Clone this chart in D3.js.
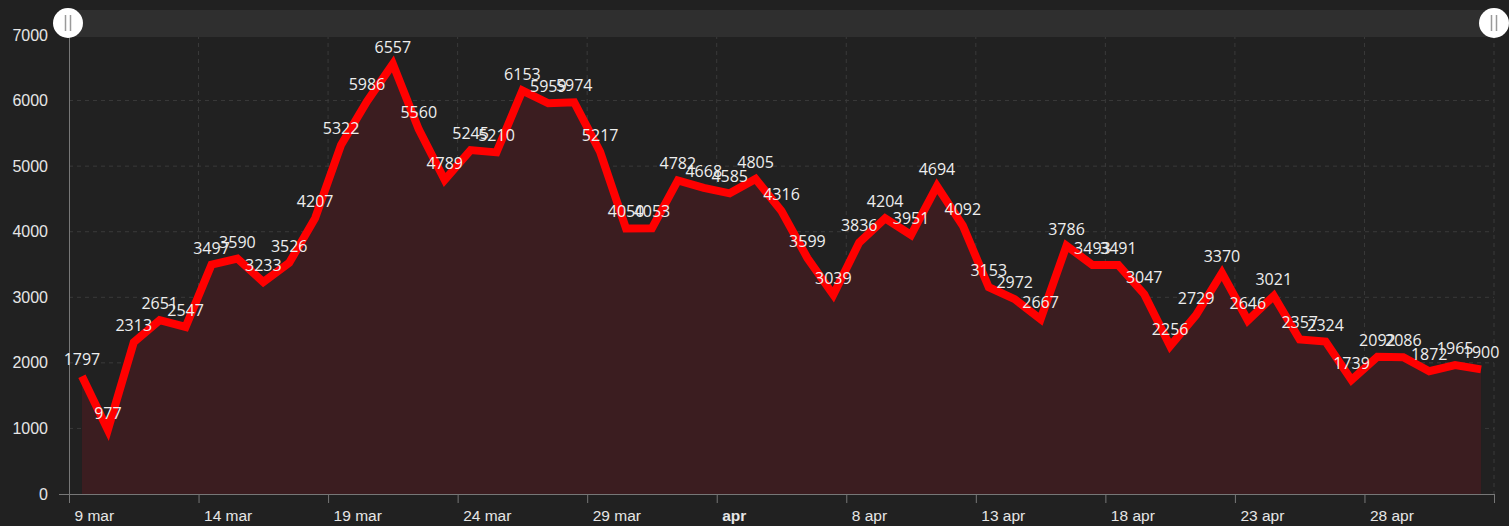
<!DOCTYPE html>
<html>
<head>
<meta charset="utf-8">
<script src="https://cdn.jsdelivr.net/npm/d3@7"></script>
<style>
  html, body { margin: 0; padding: 0; background: #212121; }
  svg { display: block; font-family: "Open Sans", "Noto Sans", sans-serif; }
</style>
</head>
<body>
<div id="chart"></div>
<script>
// daily values, 9 mar -> 2 may
const dates = [
  '2020-03-09','2020-03-10','2020-03-11','2020-03-12','2020-03-13','2020-03-14','2020-03-15',
  '2020-03-16','2020-03-17','2020-03-18','2020-03-19','2020-03-20','2020-03-21','2020-03-22',
  '2020-03-23','2020-03-24','2020-03-25','2020-03-26','2020-03-27','2020-03-28','2020-03-29',
  '2020-03-30','2020-03-31','2020-04-01','2020-04-02','2020-04-03','2020-04-04','2020-04-05',
  '2020-04-06','2020-04-07','2020-04-08','2020-04-09','2020-04-10','2020-04-11','2020-04-12',
  '2020-04-13','2020-04-14','2020-04-15','2020-04-16','2020-04-17','2020-04-18','2020-04-19',
  '2020-04-20','2020-04-21','2020-04-22','2020-04-23','2020-04-24','2020-04-25','2020-04-26',
  '2020-04-27','2020-04-28','2020-04-29','2020-04-30','2020-05-01','2020-05-02'
];
const values = [
  1797, 977, 2313, 2651, 2547, 3497, 3590,
  3233, 3526, 4207, 5322, 5986, 6557, 5560,
  4789, 5245, 5210, 6153, 5959, 5974, 5217,
  4050, 4053, 4782, 4668, 4585, 4805, 4316,
  3599, 3039, 3836, 4204, 3951, 4694, 4092,
  3153, 2972, 2667, 3786, 3493, 3491, 3047,
  2256, 2729, 3370, 2646, 3021, 2357, 2324,
  1739, 2092, 2086, 1872, 1965, 1900
];
const tickDates = ['2020-03-09','2020-03-14','2020-03-19','2020-03-24','2020-03-29','2020-04-03',
  '2020-04-08','2020-04-13','2020-04-18','2020-04-23','2020-04-28','2020-05-03'];
const tickLabels = ['9 mar','14 mar','19 mar','24 mar','29 mar','apr','8 apr','13 apr','18 apr','23 apr','28 apr',''];
const yTicks = [0, 1000, 2000, 3000, 4000, 5000, 6000, 7000];

const W = 1509, H = 526;
const mLeft = 69, mRight = 1494, mTop = 35, mBottom = 494;

const parse = d3.utcParse('%Y-%m-%d');
const data = dates.map((d, i) => ({ date: d3.utcHour.offset(parse(d), 12), value: values[i] }));

const svg = d3.select('#chart').append('svg')
  .attr('width', W)
  .attr('height', H);

const x = d3.scaleUtc()
  .domain([parse('2020-03-09'), parse('2020-05-03')])
  .range([mLeft, mRight]);
const y = d3.scaleLinear()
  .domain([0, 7000])
  .range([mBottom, mTop]);

// grid
svg.append('g')
  .selectAll('line')
  .data(yTicks.slice(1))
  .join('line')
  .attr('x1', mLeft).attr('x2', mRight)
  .attr('y1', d => y(d)).attr('y2', d => y(d))
  .attr('stroke', '#3a3a3a')
  .attr('stroke-dasharray', '4,4');
svg.append('g')
  .selectAll('line')
  .data(tickDates.slice(1))
  .join('line')
  .attr('x1', d => x(parse(d))).attr('x2', d => x(parse(d)))
  .attr('y1', mTop).attr('y2', mBottom)
  .attr('stroke', '#3a3a3a')
  .attr('stroke-dasharray', '4,4');

// area + line
const area = d3.area()
  .x(d => x(d.date))
  .y0(y(0))
  .y1(d => y(d.value));
svg.append('path')
  .datum(data)
  .attr('d', area)
  .attr('fill', '#3b1d20');

const line = d3.line()
  .x(d => x(d.date))
  .y(d => y(d.value));
svg.append('path')
  .datum(data)
  .attr('d', line)
  .attr('fill', 'none')
  .attr('stroke', '#ff0000')
  .attr('stroke-width', 8)
  .attr('stroke-linejoin', 'miter')
  .attr('stroke-linecap', 'butt');

// axes
const xAxis = svg.append('g')
  .attr('transform', `translate(0,${mBottom})`)
  .call(d3.axisBottom(x)
    .tickValues(tickDates.map(parse))
    .tickSize(9)
    .tickFormat((d, i) => tickLabels[i]));
xAxis.select('.domain').attr('stroke', '#777').attr('d', `M${mLeft - 10},0.5H${mRight}`);
xAxis.selectAll('.tick line').attr('stroke', '#777');
xAxis.selectAll('.tick text')
  .attr('text-anchor', 'start')
  .attr('dx', 5)
  .attr('y', 22)
  .attr('dy', '0.35em')
  .attr('fill', '#e6e6e6')
  .style('font-size', '15.5px')
  .style('font-weight', (d, i) => tickLabels[i] === 'apr' ? 'bold' : 'normal');

const yAxis = svg.append('g')
  .attr('transform', `translate(${mLeft},0)`)
  .call(d3.axisLeft(y).tickValues(yTicks).tickSize(0).tickPadding(21).tickFormat(d3.format('d')));
yAxis.select('.domain').attr('stroke', '#777').attr('d', `M0.5,${mTop}V${mBottom + 9}`);
yAxis.selectAll('.tick text')
  .attr('fill', '#e6e6e6')
  .style('font-size', '16px');

// value labels
svg.append('g')
  .selectAll('text')
  .data(data)
  .join('text')
  .attr('x', d => x(d.date))
  .attr('y', d => y(d.value) - 11)
  .attr('text-anchor', 'middle')
  .attr('fill', '#eeeeee')
  .style('font-size', '16px')
  .text(d => d.value);

// scrollbar
svg.append('rect')
  .attr('x', mLeft).attr('y', 10)
  .attr('width', mRight - mLeft).attr('height', 27)
  .attr('fill', '#2f2f2f');
[mLeft - 1, mRight].forEach(cx => {
  const g = svg.append('g').attr('transform', `translate(${cx},23)`);
  g.append('circle').attr('r', 15).attr('fill', '#ffffff');
  [-2.5, 2.5].forEach(dx => g.append('line')
    .attr('x1', dx).attr('x2', dx).attr('y1', -8).attr('y2', 8)
    .attr('stroke', '#9a9a9a').attr('stroke-width', 1.5));
});
</script>
</body>
</html>
